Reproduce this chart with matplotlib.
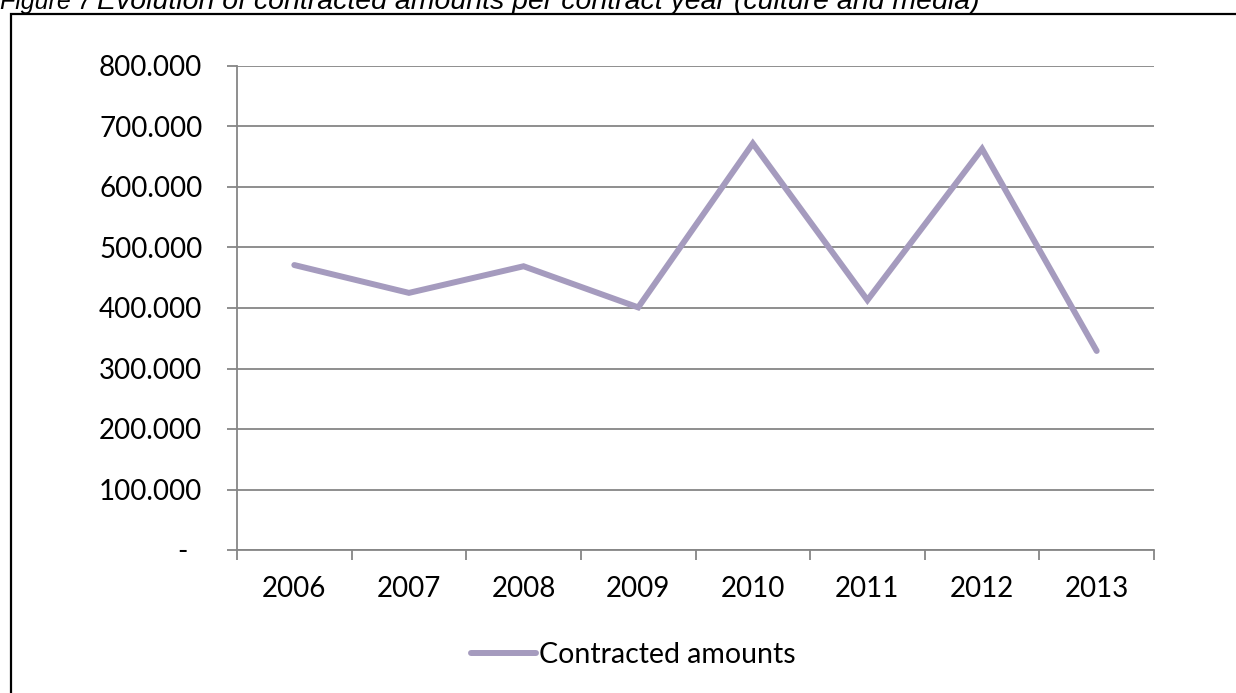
import matplotlib
matplotlib.use("Agg")
import matplotlib.pyplot as plt
from matplotlib.patches import Rectangle
from matplotlib.ticker import FuncFormatter

years = ["2006", "2007", "2008", "2009", "2010", "2011", "2012", "2013"]
amounts = [471000, 425000, 469000, 401000, 672000, 413000, 663000, 329000]
series_name = "Contracted amounts"

W, H = 1236, 693
fig = plt.figure(figsize=(W / 100, H / 100), dpi=100)
plt.rcParams["font.family"] = ["Lato", "DejaVu Sans"]

grid_col = "#868686"
line_col = "#A59BBE"

ax = fig.add_axes([237 / W, 1 - 550 / H, (1154 - 237) / W, (550 - 66) / H])
x = list(range(len(years)))
ax.plot(x, amounts, color=line_col, lw=4.3, solid_capstyle="round",
        solid_joinstyle="miter", label=series_name, zorder=3)

ax.set_xlim(-0.5, len(years) - 0.5)
ax.set_ylim(0, 800000)
ax.set_yticks(range(0, 800001, 100000))


def thousands(v, pos):
    if v == 0:
        return "-  "
    return f"{int(v):,}".replace(",", ".")


ax.yaxis.set_major_formatter(FuncFormatter(thousands))
ax.grid(axis="y", color=grid_col, lw=1.3)
ax.set_axisbelow(True)

# year labels sit between the category boundary ticks
ax.set_xticks([i - 0.5 for i in range(len(years) + 1)])
ax.set_xticklabels([])
ax.set_xticks(x, minor=True)
ax.set_xticklabels(years, minor=True)
ax.tick_params(axis="x", which="minor", length=0, pad=19, labelsize=20)
ax.tick_params(axis="x", which="major", length=7, width=1.3, color=grid_col,
               direction="out")
ax.tick_params(axis="y", length=7, width=1.3, color=grid_col, pad=18,
               labelsize=20)

for side in ["top", "right"]:
    ax.spines[side].set_visible(False)
for side in ["left", "bottom"]:
    ax.spines[side].set_color(grid_col)
    ax.spines[side].set_linewidth(1.3)

leg = fig.legend(loc="center", bbox_to_anchor=(633 / W, 1 - 655 / H),
                 frameon=False, fontsize=20.5, handlelength=2.3,
                 handletextpad=0.1)

# frame around the figure, open to the right and bottom
fig.patches.append(Rectangle((11 / W, -0.1), 1.2, (1 - 14 / H) + 0.1,
                             transform=fig.transFigure, fill=False,
                             edgecolor="black", lw=1.6))

fig.text(0, 1 - 9 / H, "Figure 7", fontsize=18, style="italic",
         family="Liberation Sans", va="baseline", ha="left")
fig.text(97 / W, 1 - 9 / H,
         "Evolution of contracted amounts per contract year (culture and media)",
         fontsize=20.5, style="italic", family="Liberation Sans",
         va="baseline", ha="left")

fig.savefig("out.png", dpi=100)
